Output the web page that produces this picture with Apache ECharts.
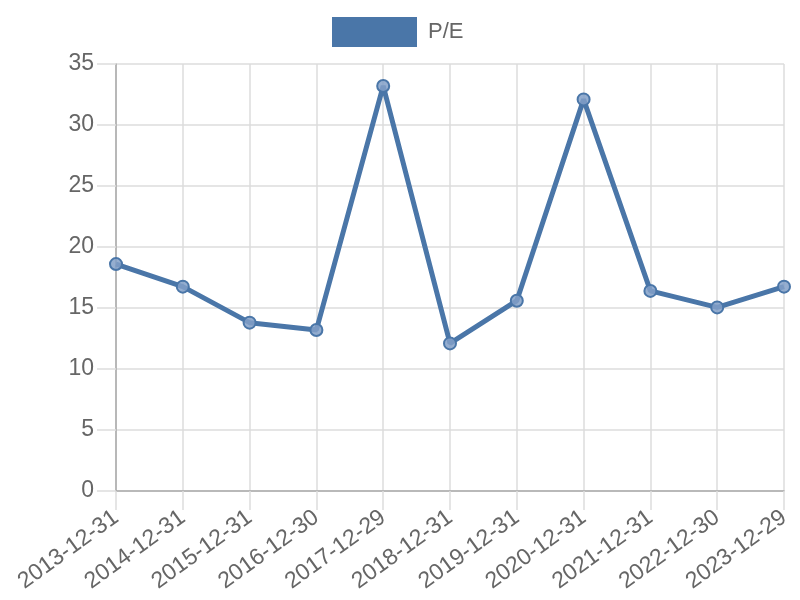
<!DOCTYPE html>
<html><head><meta charset="utf-8">
<script src="https://cdn.jsdelivr.net/npm/echarts@6/dist/echarts.min.js"></script>
<style>html,body{margin:0;padding:0;background:#fff}#c{width:800px;height:600px}</style>
</head><body><div id="c"></div>
<script>
const categories = ["2013-12-31","2014-12-31","2015-12-31","2016-12-30","2017-12-29","2018-12-31","2019-12-31","2020-12-31","2021-12-31","2022-12-30","2023-12-29"];
const peValues = [18.6, 16.75, 13.8, 13.2, 33.2, 12.1, 15.6, 32.1, 16.4, 15.05, 16.75];
const seriesName = "P/E";
const FONT = 'Liberation Sans, Arial, sans-serif';
const chart = echarts.init(document.getElementById('c'));
chart.setOption({
  animation: false,
  legend: {
    top: 12, left: 327, itemWidth: 85, itemHeight: 30, itemGap: 10,
    icon: 'rect',
    textStyle: {fontSize: 22, color: '#666', fontFamily: FONT, padding: [0, 0, 0, 6]},
    data: [{name: seriesName, itemStyle: {color: '#4a76a8', borderWidth: 0}}]
  },
  grid: {left: 116, right: 16, top: 64, bottom: 109, containLabel: false},
  xAxis: {
    type: 'category', data: categories, boundaryGap: false,
    axisLine: {lineStyle: {color: '#aaa', width: 1.5}},
    axisTick: {show: true, length: 19, lineStyle: {color: '#ddd', width: 1.5}},
    splitLine: {show: true, lineStyle: {color: '#ddd', width: 1.5}},
    axisLabel: {rotate: 36, fontSize: 23, color: '#666', margin: 24, fontFamily: FONT, interval: 0, align: 'right', verticalAlign: 'middle'}
  },
  yAxis: {
    type: 'value', min: 0, max: 35, interval: 5,
    axisLine: {show: true, lineStyle: {color: '#aaa', width: 1.5}},
    axisTick: {show: true, length: 19, lineStyle: {color: '#ddd', width: 1.5}},
    splitLine: {show: true, lineStyle: {color: '#ddd', width: 1.5}},
    axisLabel: {fontSize: 23, color: '#666', margin: 22, fontFamily: FONT}
  },
  series: [{
    name: seriesName, type: 'line', data: peValues,
    lineStyle: {color: '#4a76a8', width: 5},
    symbol: 'circle', symbolSize: 12,
    itemStyle: {color: 'rgba(130,160,200,0.85)', borderColor: '#4a76a8', borderWidth: 2}
  }]
});
</script></body></html>
